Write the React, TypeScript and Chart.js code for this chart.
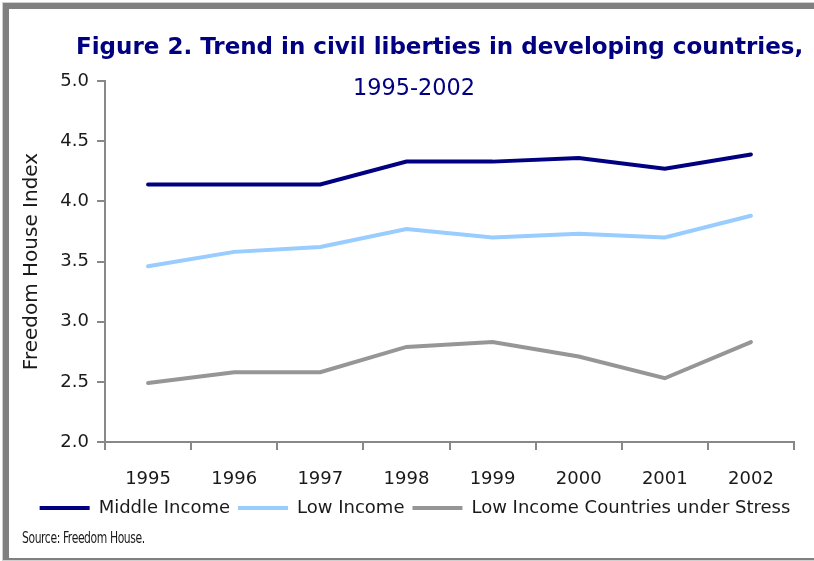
import React, { useEffect, useRef } from "react";
import { Chart, registerables } from "chart.js";

Chart.register(...registerables);

const years = ["1995", "1996", "1997", "1998", "1999", "2000", "2001", "2002"];
const middleIncome = [4.14, 4.14, 4.14, 4.33, 4.33, 4.36, 4.27, 4.39];
const lowIncome = [3.46, 3.58, 3.62, 3.77, 3.70, 3.73, 3.70, 3.88];
const lowIncomeStress = [2.49, 2.58, 2.58, 2.79, 2.83, 2.71, 2.53, 2.83];
const seriesNames = ["Middle Income", "Low Income", "Low Income Countries under Stress"];
const seriesColors = ["#000080", "#99CCFF", "#969696"];
const yMin = 2.0;
const yMax = 5.0;
const yStep = 0.5;

const AXIS_GRAY = "#888888";
const TEXT = "#1a1a1a";

export default function App() {
  const canvasRef = useRef<HTMLCanvasElement | null>(null);

  useEffect(() => {
    if (!canvasRef.current) return;
    Chart.defaults.font.family = "'DejaVu Sans', Verdana, sans-serif";
    const values = [middleIncome, lowIncome, lowIncomeStress];
    const chart = new Chart(canvasRef.current, {
      type: "line",
      data: {
        labels: years,
        datasets: values.map((v, i) => ({
          label: seriesNames[i],
          data: v,
          borderColor: seriesColors[i],
          backgroundColor: seriesColors[i],
          borderWidth: 4,
          pointRadius: 0,
          pointHoverRadius: 0,
          tension: 0,
          fill: false,
          borderCapStyle: "round" as const,
          borderJoinStyle: "miter" as const,
        })),
      },
      options: {
        responsive: false,
        animation: false,
        layout: { padding: { top: 81, left: 20, right: 4, bottom: 34 } },
        plugins: {
          title: { display: false },
          tooltip: { enabled: false },
          legend: {
            display: true,
            position: "bottom",
            labels: {
              usePointStyle: true,
              pointStyle: "line",
              pointStyleWidth: 50,
              boxHeight: 4,
              padding: 8,
              color: TEXT,
              font: { size: 18 },
            },
          },
        },
        scales: {
          x: {
            type: "category",
            offset: true,
            grid: {
              offset: true,
              drawOnChartArea: false,
              drawTicks: true,
              tickLength: 8,
              color: AXIS_GRAY,
              lineWidth: 2,
            },
            border: { display: true, color: AXIS_GRAY, width: 2 },
            ticks: { color: TEXT, font: { size: 18 }, padding: 19, maxRotation: 0 },
            afterFit: (scale: any) => {
              scale.height = 49;
            },
          },
          y: {
            min: yMin,
            max: yMax,
            ticks: {
              stepSize: yStep,
              color: TEXT,
              font: { size: 18 },
              padding: 8,
              callback: (v: any) => Number(v).toFixed(1),
            },
            grid: {
              drawOnChartArea: false,
              drawTicks: true,
              tickLength: 8,
              color: AXIS_GRAY,
              lineWidth: 2,
            },
            border: { display: true, color: AXIS_GRAY, width: 2 },
            title: {
              display: true,
              text: "Freedom House Index",
              color: TEXT,
              font: { size: 20 },
              padding: { top: 0, bottom: 0 },
            },
            afterFit: (scale: any) => {
              scale.width = 85;
            },
          },
          yRight: {
            position: "right",
            display: true,
            min: yMin,
            max: yMax,
            grid: { display: false, drawTicks: false },
            ticks: { display: false },
            border: { display: false },
            afterFit: (scale: any) => {
              scale.width = 16;
            },
          },
        },
      },
    });
    return () => chart.destroy();
  }, []);

  return (
    <div
      style={{
        position: "fixed",
        left: 0,
        top: 0,
        width: 814,
        height: 561,
        overflow: "hidden",
        background: "#ffffff",
      }}
    >
      <div
        style={{
          position: "absolute",
          left: 3,
          top: 3,
          width: 840,
          height: 557,
          boxSizing: "border-box",
          borderLeft: "6px solid #808080",
          borderTop: "6px solid #808080",
          borderBottom: "2px solid #808080",
          boxShadow: "0 0 0 1px #d0d0d0",
        }}
      />
      <canvas
        ref={canvasRef}
        width={814}
        height={561}
        style={{ position: "absolute", left: 0, top: 0, width: 814, height: 561 }}
      />
      <div
        style={{
          position: "absolute",
          left: 76,
          top: 33,
          whiteSpace: "nowrap",
          fontFamily: "'DejaVu Sans', Verdana, sans-serif",
          fontWeight: "bold",
          fontSize: 23,
          lineHeight: "27px",
          color: "#000080",
        }}
      >
        Figure 2. Trend in civil liberties in developing countries,
      </div>
      <div
        style={{
          position: "absolute",
          left: 353,
          top: 74,
          whiteSpace: "nowrap",
          fontFamily: "'DejaVu Sans', Verdana, sans-serif",
          fontSize: 22.4,
          lineHeight: "26px",
          color: "#000080",
        }}
      >
        1995-2002
      </div>
      <div
        style={{
          position: "absolute",
          left: 22,
          top: 530,
          whiteSpace: "nowrap",
          fontFamily: "'Liberation Sans Narrow', 'DejaVu Sans Condensed', sans-serif",
          fontSize: 15,
          lineHeight: "16px",
          letterSpacing: "-0.5px",
          color: TEXT,
          transform: "scaleX(0.8)",
          transformOrigin: "left top",
        }}
      >
        Source: Freedom House.
      </div>
    </div>
  );
}
